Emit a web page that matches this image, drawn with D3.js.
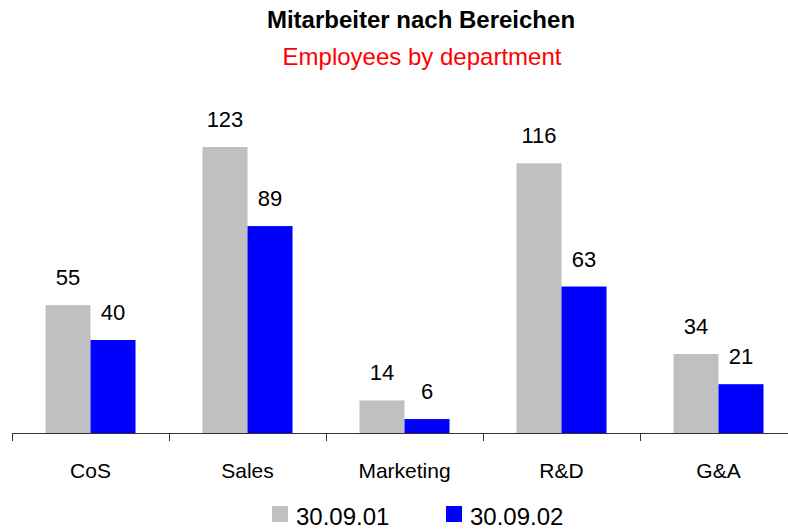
<!DOCTYPE html>
<meta charset="utf-8">
<style>
body { margin: 0; background: #fff; }
text { font-family: "Liberation Sans", Arial, sans-serif; }
</style>
<body>
</body>
<script src="https://d3js.org/d3.v7.min.js"></script>
<script>

// chart data
var departments = ["CoS", "Sales", "Marketing", "R&D", "G&A"];
var seriesNames = ["30.09.01", "30.09.02"];
var values2001 = [55, 123, 14, 116, 34];
var values2002 = [40, 89, 6, 63, 21];
var seriesColors = ["#c0c0c0", "#0000ff"];

var width = 788, height = 531;
var baseY = 433;

var svg = d3.select("body").append("svg")
    .attr("width", width)
    .attr("height", height);

var rows = departments.map(function(d, i) {
  return {dept: d, vals: [values2001[i], values2002[i]]};
});

var x0 = d3.scaleBand()
    .domain(departments)
    .range([12, 797])
    .padding(0);

var x1 = d3.scaleBand()
    .domain(d3.range(seriesNames.length))
    .range([0, x0.bandwidth()])
    .paddingInner(0)
    .paddingOuter(0.744);

var y = d3.scaleLinear()
    .domain([0, 140])
    .range([baseY, baseY - 140 * 2.325]);

// titles
svg.append("text")
    .attr("x", 421).attr("y", 28)
    .attr("text-anchor", "middle")
    .attr("font-size", "24px")
    .attr("font-weight", "bold")
    .text("Mitarbeiter nach Bereichen");

svg.append("text")
    .attr("x", 422).attr("y", 65)
    .attr("text-anchor", "middle")
    .attr("font-size", "24px")
    .attr("fill", "#ff0000")
    .text("Employees by department");

// bars
var groups = svg.selectAll(".grp")
    .data(rows)
  .enter().append("g")
    .attr("class", "grp")
    .attr("transform", function(d) { return "translate(" + x0(d.dept) + ",0)"; });

groups.selectAll("rect")
    .data(function(d) { return d.vals; })
  .enter().append("rect")
    .attr("x", function(d, i) { return x1(i); })
    .attr("y", function(d) { return y(d); })
    .attr("width", x1.bandwidth())
    .attr("height", function(d) { return baseY - y(d); })
    .attr("fill", function(d, i) { return seriesColors[i]; });

groups.selectAll(".val")
    .data(function(d) { return d.vals; })
  .enter().append("text")
    .attr("class", "val")
    .attr("x", function(d, i) { return x1(i) + x1.bandwidth() / 2; })
    .attr("y", function(d) { return y(d) - 20; })
    .attr("text-anchor", "middle")
    .attr("font-size", "22px")
    .text(function(d) { return d; });

// x axis
var xAxis = d3.axisBottom(x0).tickSize(0).tickPadding(0).tickSizeOuter(0);
var axisG = svg.append("g")
    .attr("transform", "translate(0," + baseY + ")")
    .call(xAxis);
axisG.select(".domain").remove();
axisG.selectAll(".tick text")
    .attr("y", 45)
    .attr("dy", 0)
    .attr("font-size", "21px")
    .attr("font-family", "Liberation Sans, Arial, sans-serif")
    .attr("fill", "#000");

axisG.append("line")
    .attr("x1", 12).attr("x2", 797)
    .attr("y1", 0.5).attr("y2", 0.5)
    .attr("stroke", "#333");

axisG.selectAll(".sep")
    .data(departments.concat(["end"]))
  .enter().append("line")
    .attr("class", "sep")
    .attr("x1", function(d, i) { return Math.round(x0.range()[0] + i * x0.step()) + 0.5; })
    .attr("x2", function(d, i) { return Math.round(x0.range()[0] + i * x0.step()) + 0.5; })
    .attr("y1", 0).attr("y2", 8)
    .attr("stroke", "#333");

// legend (kept just inside the bottom edge)
var legendX = [272, 446];
var legend = svg.selectAll(".leg")
    .data(seriesNames)
  .enter().append("g")
    .attr("class", "leg")
    .attr("transform", function(d, i) { return "translate(" + legendX[i] + ",506)"; });

legend.append("rect")
    .attr("width", 16).attr("height", 16)
    .attr("fill", function(d, i) { return seriesColors[i]; });

legend.append("text")
    .attr("x", 24).attr("y", 19)
    .attr("font-size", "24px")
    .text(function(d) { return d; });

</script>
